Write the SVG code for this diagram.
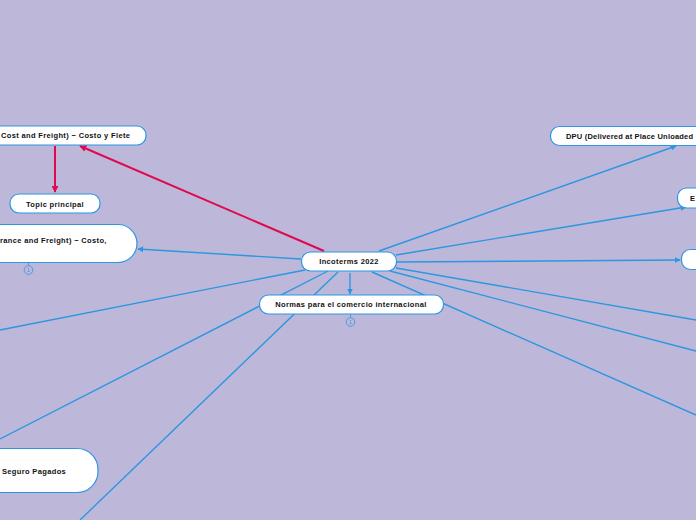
<svg xmlns="http://www.w3.org/2000/svg" width="696" height="520" viewBox="0 0 696 520">
<defs>
<style>
.bg{fill:#bdb8da}
.node{fill:#ffffff;stroke:#2d96e0;stroke-width:1.2}
.t{font-family:"Liberation Sans",Arial,sans-serif;font-weight:bold;font-size:7.5px;letter-spacing:0.35px;fill:#111111}
.c{fill:none;stroke:#2d96e0;stroke-width:1.4}
.r{fill:none;stroke:#e0084f;stroke-width:2}
.cnt{fill:none;stroke:#2d96e0;stroke-width:0.8}
.ct{font-family:"Liberation Sans",Arial,sans-serif;font-size:5px;fill:#2d96e0}
</style>
<marker id="ab" viewBox="0 0 10 10" refX="9" refY="5" markerWidth="6" markerHeight="6" orient="auto" markerUnits="userSpaceOnUse">
<path d="M0,0 L10,5 L0,10 z" fill="#2d96e0"/>
</marker>
<marker id="ar" viewBox="0 0 10 10" refX="9" refY="5" markerWidth="7" markerHeight="7" orient="auto" markerUnits="userSpaceOnUse">
<path d="M0,0 L10,5 L0,10 z" fill="#e0084f"/>
</marker>
</defs>
<rect class="bg" x="0" y="0" width="696" height="520"/>
<g id="connectors">
<line class="c" x1="379" y1="251" x2="676" y2="146" marker-end="url(#ab)"/>
<line class="c" x1="396" y1="255" x2="686" y2="207" marker-end="url(#ab)"/>
<line class="c" x1="396" y1="262" x2="680" y2="260" marker-end="url(#ab)"/>
<line class="c" x1="396" y1="268" x2="696" y2="320"/>
<line class="c" x1="390" y1="271" x2="696" y2="351"/>
<line class="c" x1="372" y1="272" x2="696" y2="415"/>
<line class="c" x1="301" y1="259" x2="138" y2="249" marker-end="url(#ab)"/>
<line class="c" x1="305" y1="270" x2="0" y2="330"/>
<line class="c" x1="328" y1="271" x2="0" y2="439"/>
<line class="c" x1="338" y1="272" x2="80" y2="520"/>
<line class="c" x1="350" y1="273" x2="350" y2="294" marker-end="url(#ab)"/>
<line class="r" x1="324" y1="251" x2="80" y2="146" marker-end="url(#ar)"/>
<line class="r" x1="55" y1="146" x2="55" y2="192" marker-end="url(#ar)"/>
</g>
<g id="n-incoterms">
<rect class="node" x="301.5" y="252" width="95" height="19" rx="9"/>
<text class="t" x="349" y="264" text-anchor="middle">Incoterms 2022</text>
</g>
<g id="n-normas">
<rect class="node" x="259.5" y="295" width="184" height="19" rx="9"/>
<text class="t" x="351" y="307" text-anchor="middle">Normas para el comercio internacional</text>
<line class="cnt" x1="350.5" y1="314" x2="350.5" y2="317.5"/>
<circle class="cnt" cx="350.5" cy="322" r="4.3"/>
<text class="ct" x="350.5" y="323.8" text-anchor="middle">1</text>
</g>
<g id="n-cfr">
<rect class="node" x="-60" y="126" width="206" height="19" rx="9"/>
<text class="t" x="1" y="138">Cost and Freight) − Costo y Flete</text>
</g>
<g id="n-topic">
<rect class="node" x="10" y="194" width="90" height="19" rx="9"/>
<text class="t" x="55" y="206.5" text-anchor="middle">Topic principal</text>
</g>
<g id="n-cif">
<rect class="node" x="-80" y="224.5" width="217" height="38" rx="19"/>
<text class="t" x="0" y="243">rance and Freight) − Costo,</text>
<line class="cnt" x1="28.5" y1="262.5" x2="28.5" y2="265.5"/>
<circle class="cnt" cx="28.5" cy="270" r="4.3"/>
<text class="ct" x="28.5" y="271.8" text-anchor="middle">1</text>
</g>
<g id="n-seguro">
<rect class="node" x="-80" y="448.5" width="178" height="44" rx="21"/>
<text class="t" x="2" y="474">Seguro Pagados</text>
</g>
<g id="n-dpu">
<rect class="node" x="550.5" y="126.5" width="200" height="19" rx="9"/>
<text class="t" x="566" y="138.5" style="letter-spacing:0.2px">DPU (Delivered at Place Unloaded</text>
</g>
<g id="n-e">
<rect class="node" x="677.5" y="188" width="60" height="20" rx="9"/>
<text class="t" x="690" y="200.5">E</text>
</g>
<g id="n-third">
<rect class="node" x="681.5" y="249.5" width="60" height="20" rx="9"/>
</g>
</svg>
